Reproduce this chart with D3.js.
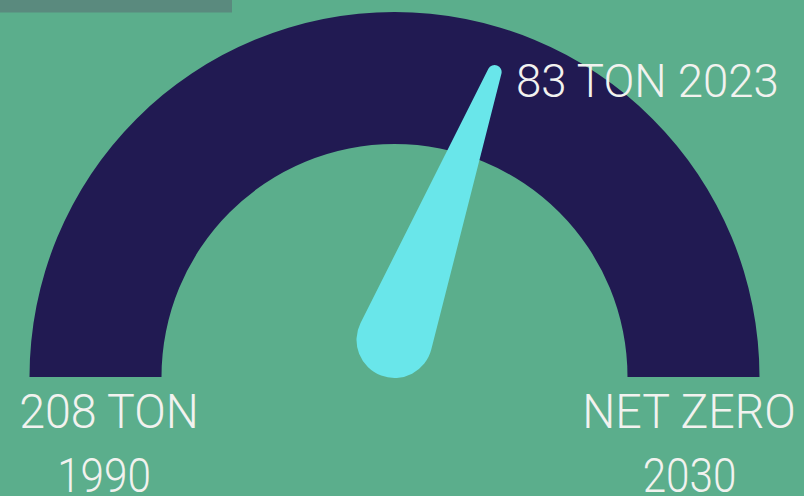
<!DOCTYPE html>
<html>
<head>
<meta charset="utf-8">
<script src="https://cdn.jsdelivr.net/npm/d3@7"></script>
<style>
  html, body { margin: 0; padding: 0; background: #5BAE8C; }
  svg { display: block; }
  text { font-family: Roboto, "Noto Sans", sans-serif; font-weight: 300; fill: #F2F2EF; }
</style>
</head>
<body>
<div id="chart"></div>
<script>
// gauge data
var gaugeStart = 208;          // 1990 level
var gaugeEnd = 0;              // net zero
var currentValue = 83;         // 2023 level
var startLabels = ["208 TON", "1990"];
var endLabels = ["NET ZERO", "2030"];
var valueLabel = "83 TON 2023";

function init() {
    var w = 804, h = 496;
    var cx = 394.5, cy = 377;
    var outerR = 365, innerR = 233;

    var svg = d3.select("#chart")
        .append("svg")
        .attr("width", w)
        .attr("height", h);

    // background strip top-left
    svg.append("rect")
        .attr("x", 0).attr("y", 0)
        .attr("width", 232).attr("height", 12.5)
        .attr("fill", "#5A8A7E");

    // angle scale: left (-90deg) to right (+90deg)
    var angle = d3.scaleLinear()
        .domain([gaugeStart, gaugeEnd])
        .range([-Math.PI / 2, Math.PI / 2]);

    var g = svg.append("g")
        .attr("transform", "translate(" + cx + "," + cy + ")");

    // the gauge band
    var arc = d3.arc()
        .innerRadius(innerR)
        .outerRadius(outerR)
        .startAngle(angle(gaugeStart))
        .endAngle(angle(gaugeEnd));

    g.append("path")
        .attr("d", arc())
        .attr("fill", "#211A52");

    // needle: hub sits above the centre, tip follows the value angle
    var hub = [0, -37], r1 = 38;
    var tipR = 321, r2 = 7;
    var a = angle(currentValue);
    var tip = [tipR * Math.sin(a), -tipR * Math.cos(a)];

    var dx = tip[0] - hub[0], dy = tip[1] - hub[1];
    var L = Math.sqrt(dx * dx + dy * dy);
    var rot = Math.atan2(dx, -dy) * 180 / Math.PI;

    var s = (r1 - r2) / L, c = Math.sqrt(1 - s * s);
    var p = d3.path();
    p.moveTo(r1 * c, -r1 * s);
    p.lineTo(r2 * c, -L - r2 * s);
    p.arc(0, -L, r2, Math.atan2(-s, c), Math.atan2(-s, -c), true);
    p.lineTo(-r1 * c, -r1 * s);
    p.arc(0, 0, r1, Math.atan2(-s, -c), Math.atan2(-s, c) + 2 * Math.PI, true);
    p.closePath();

    g.append("path")
        .attr("d", p.toString())
        .attr("transform", "translate(" + hub[0] + "," + hub[1] + ") rotate(" + rot + ")")
        .attr("fill", "#69E6EA");

    // labels (condensed a little to mimic the narrow original face)
    svg.append("text")
        .attr("transform", "translate(516,97) scale(0.97,1)")
        .attr("font-size", 47)
        .text(valueLabel);

    function labelBlock(data, xs) {
        svg.append("g").selectAll("text")
            .data(data)
            .enter()
            .append("text")
            .attr("text-anchor", "middle")
            .attr("transform", function (d, i) {
                var sx = i === 0 ? 0.97 : 0.88;
                return "translate(" + xs[i] + "," + (428 + i * 64) + ") scale(" + sx + ",1)";
            })
            .attr("font-size", 48)
            .text(function (d) { return d; });
    }
    labelBlock(startLabels, [109, 104]);
    labelBlock(endLabels, [689, 689.5]);
}
window.onload = init;
</script>
</body>
</html>
